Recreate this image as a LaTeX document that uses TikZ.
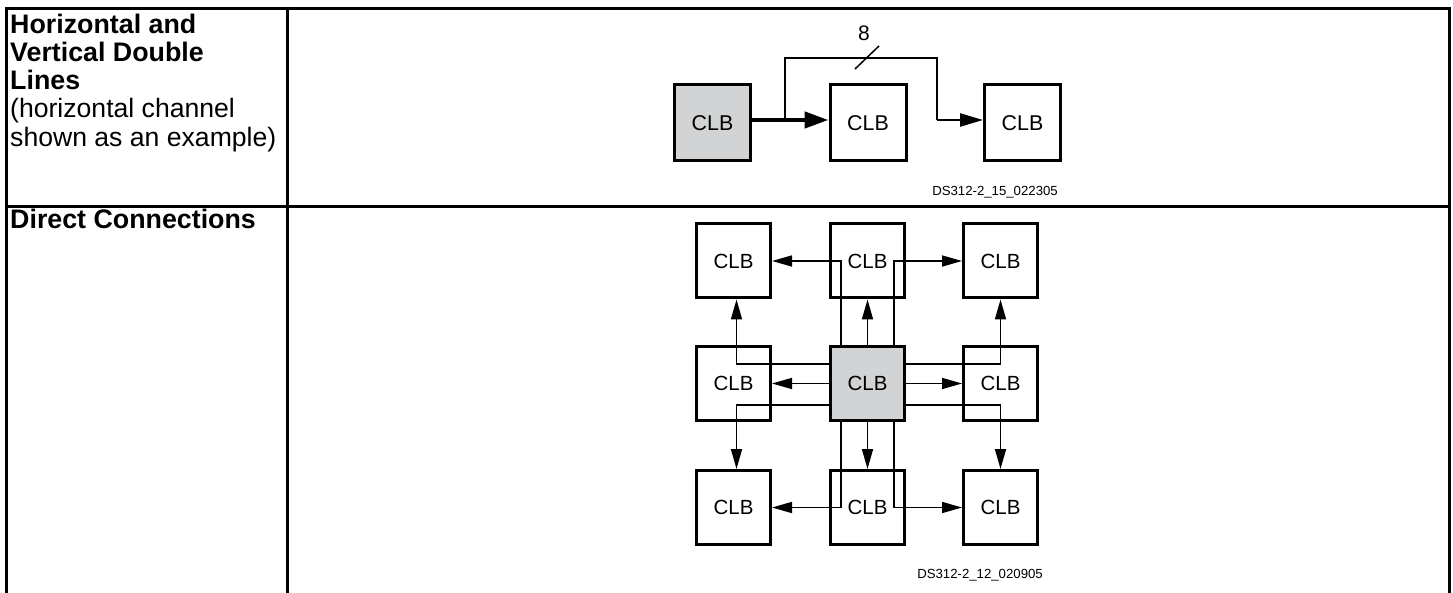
\documentclass[tikz,border=0pt]{standalone}
\usepackage{fontspec}
\setmainfont{Liberation Sans}
\usetikzlibrary{arrows.meta,calc}
\definecolor{clbgray}{RGB}{210,211,213}
\begin{document}
\begin{tikzpicture}[x=1pt,y=-1pt,
  rule/.style={line width=3pt},
  hdr/.style={anchor=base west,inner sep=0pt,font=\fontsize{26.8}{28}\selectfont\bfseries},
  txt/.style={anchor=base west,inner sep=0pt,font=\fontsize{26.6}{28}\selectfont},
  bigclb/.style={draw,line width=3pt,minimum size=76pt,inner sep=0pt,fill=white,font=\fontsize{21.4}{24}\selectfont},
  clb/.style={draw,line width=3pt,minimum size=74pt,inner sep=0pt,fill=white,font=\fontsize{20.5}{24}\selectfont},
  bus/.style={line width=4.5pt,-{Triangle[length=24pt,width=16pt]}},
  branch/.style={line width=2.5pt,line join=miter},
  brarrow/.style={line width=2.5pt,line join=miter,-{Triangle[length=23pt,width=13pt]}},
  conn/.style={line width=1.7pt,line join=miter,-{Triangle[length=20pt,width=11pt]}},
  idlab/.style={inner sep=0pt,font=\fontsize{13.2}{15}\selectfont},
]
\useasboundingbox (0,0) rectangle (1453,593);
\fill[white] (0,0) rectangle (1453,593);

% table
\draw[rule,line join=miter] (6,593) -- (6,9) -- (1449,9) -- (1449,593);
\draw[rule] (6,206.7) -- (1449,206.7);
\draw[rule] (287,9) -- (287,593);

% left column text
\node[hdr] (h1) at (10,33.5) {Horizontal and};
\node[hdr] (h2) at (10,61.8) {Vertical Double};
\node[hdr] (h3) at (10,90) {Lines};
\node[txt] (h4) at (10,118) {(horizontal channel};
\node[txt] (h5) at (10,146.3) {shown as an example)};
\node[hdr] (d1) at (10,228.5) {Direct Connections};

% top diagram
\node[bigclb,fill=clbgray] (g) at (712.5,123) {CLB};
\node[bigclb] (b2) at (868,123) {CLB};
\node[bigclb] (b3) at (1022.5,123) {CLB};
\coordinate (br0) at (785,120);
\coordinate (br1) at (785,58);
\coordinate (br2) at (937,58);
\coordinate (br3) at (937,120);
\draw[bus] ([yshift=3pt]g.east) -- ([yshift=3pt]b2.west);
\draw[branch] (br0) -- (br1) -- (br2) -- (br3);
\draw[brarrow] (br3) -- ([yshift=3pt]b3.west);
\coordinate (s0) at (855,69);
\coordinate (s1) at (879,46);
\draw[line width=1.5pt] (s0) -- (s1);
\node[inner sep=0pt,font=\fontsize{21}{24}\selectfont] (n8) at (864,33) {8};
\node[idlab,anchor=base east] (id1) at (1058,196) {DS312-2\_15\_022305};

% bottom diagram
\node[clb] (tl) at (733.5,261) {CLB};
\node[clb] (tm) at (867.5,261) {CLB};
\node[clb] (tr) at (1000.5,261) {CLB};
\node[clb] (ml) at (733.5,383.5) {CLB};
\node[clb,fill=clbgray] (c) at (867.5,383.5) {CLB};
\node[clb] (mr) at (1000.5,383.5) {CLB};
\node[clb] (bl) at (733.5,507.5) {CLB};
\node[clb] (bm) at (867.5,507.5) {CLB};
\node[clb] (brr) at (1000.5,507.5) {CLB};

% straight neighbours
\draw[conn] (c.north) -- (tm.south);
\draw[conn] (c.south) -- (bm.north);
\draw[conn] (c.west) -- (ml.east);
\draw[conn] (c.east) -- (mr.west);

% diagonal neighbours via channels
\draw[conn] ([yshift=19.5pt]c.west) -| ([xshift=3pt]tl.south);
\draw[conn] ([yshift=19.5pt]c.east) -| (tr.south);
\draw[conn] ([yshift=-21.5pt]c.west) -| ([xshift=3pt]bl.north);
\draw[conn] ([yshift=-21.5pt]c.east) -| (brr.north);

% routes through the middle column
\draw[conn] ([xshift=-26.5pt]c.north) |- (tl.east);
\draw[conn] ([xshift=26.5pt]c.north) |- (tr.west);
\draw[conn] ([xshift=-26.5pt]c.south) |- (bl.east);
\draw[conn] ([xshift=26.5pt]c.south) |- (brr.west);

\node[idlab,anchor=base east] (id2) at (1043,578) {DS312-2\_12\_020905};
\end{tikzpicture}
\end{document}
